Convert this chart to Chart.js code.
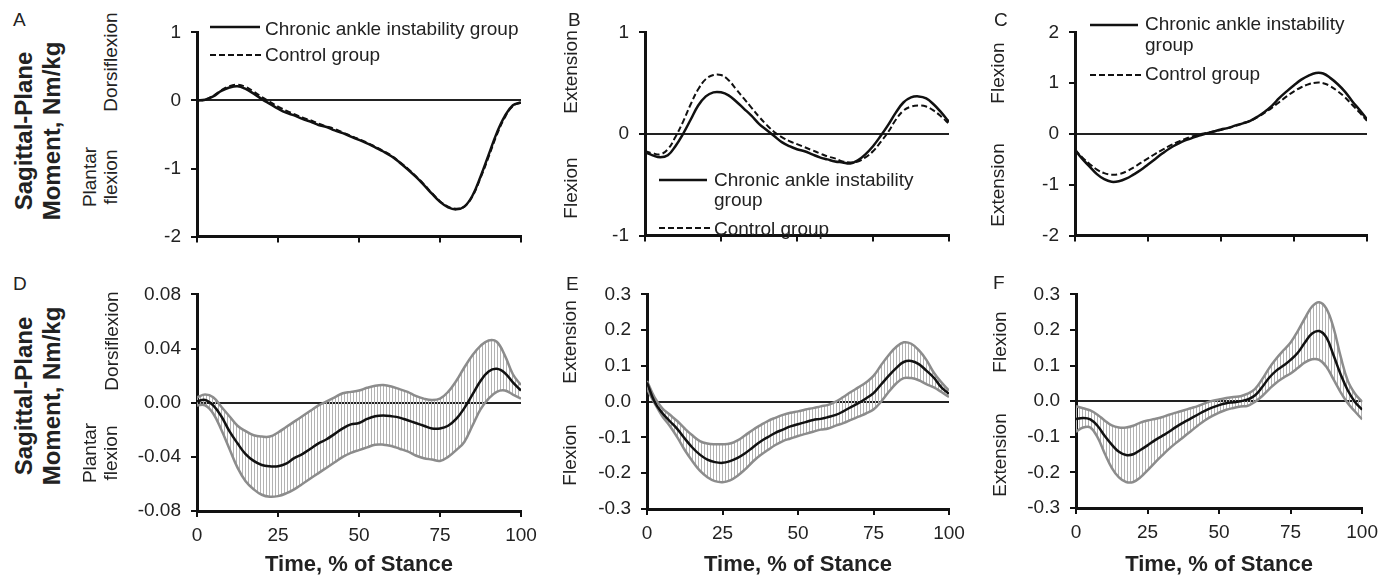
<!DOCTYPE html>
<html lang="en">
<head>
<meta charset="UTF-8">
<title>Sagittal-Plane Moment</title>
<script src="https://cdn.jsdelivr.net/npm/chart.js"></script>
<style>
  body { margin: 0; background: #fff; }
  #fig { position: relative; width: 1385px; height: 576px; overflow: hidden;
         font-family: "Liberation Sans", Arial, sans-serif; color: #222; }
  #fig canvas { position: absolute; }
  .t { position: absolute; font-size: 19px; line-height: 22px; white-space: nowrap; }
  .r { transform: translate(-50%, -50%) rotate(-90deg); text-align: center; }
  .big { font-weight: bold; font-size: 24px; line-height: 28px; }
  svg { position: absolute; }
</style>
</head>
<body>
<div id="fig">
  <canvas id="chartA"></canvas>
  <canvas id="chartB"></canvas>
  <canvas id="chartC"></canvas>
  <canvas id="chartD"></canvas>
  <canvas id="chartE"></canvas>
  <canvas id="chartF"></canvas>

  <!-- panel letters -->
  <div class="t" style="left:13px;top:10px;line-height:19px">A</div>
  <div class="t" style="left:568px;top:10px;line-height:19px">B</div>
  <div class="t" style="left:994px;top:10px;line-height:19px">C</div>
  <div class="t" style="left:13px;top:274px;line-height:19px">D</div>
  <div class="t" style="left:566px;top:274px;line-height:19px">E</div>
  <div class="t" style="left:993px;top:273px;line-height:19px">F</div>

  <!-- row titles -->
  <div class="t r big" style="left:38px;top:131px">Sagittal-Plane<br>Moment, Nm/kg</div>
  <div class="t r big" style="left:38px;top:396px">Sagittal-Plane<br>Moment, Nm/kg</div>

  <!-- direction labels -->
  <div class="t r" style="left:111px;top:62px">Dorsiflexion</div>
  <div class="t r" style="left:100px;top:177px;line-height:21px">Plantar<br>flexion</div>
  <div class="t r" style="left:571px;top:72px">Extension</div>
  <div class="t r" style="left:571px;top:188px">Flexion</div>
  <div class="t r" style="left:998px;top:73px">Flexion</div>
  <div class="t r" style="left:998px;top:185px">Extension</div>
  <div class="t r" style="left:112px;top:341px">Dorsiflexion</div>
  <div class="t r" style="left:100px;top:453px;line-height:21px">Plantar<br>flexion</div>
  <div class="t r" style="left:570px;top:342px">Extension</div>
  <div class="t r" style="left:570px;top:455px">Flexion</div>
  <div class="t r" style="left:1000px;top:342px">Flexion</div>
  <div class="t r" style="left:1000px;top:455px">Extension</div>

  <!-- legends -->
  <svg style="left:210px;top:24px" width="50" height="6"><line x1="0" y1="3" x2="50" y2="3" stroke="#111" stroke-width="2.5"/></svg>
  <div class="t" style="left:265px;top:18px">Chronic ankle instability group</div>
  <svg style="left:210px;top:52px" width="53" height="6"><line x1="0" y1="3" x2="53" y2="3" stroke="#111" stroke-width="2" stroke-dasharray="6 3"/></svg>
  <div class="t" style="left:265px;top:44px">Control group</div>

  <svg style="left:659px;top:177px" width="48" height="6"><line x1="0" y1="3" x2="48" y2="3" stroke="#111" stroke-width="2.5"/></svg>
  <div class="t" style="left:714px;top:169px">Chronic ankle instability</div>
  <div class="t" style="left:714px;top:189px">group</div>
  <svg style="left:659px;top:225px" width="53" height="6"><line x1="0" y1="3" x2="53" y2="3" stroke="#111" stroke-width="2" stroke-dasharray="6 3"/></svg>
  <div class="t" style="left:714px;top:218px">Control group</div>

  <svg style="left:1090px;top:22px" width="48" height="6"><line x1="0" y1="3" x2="48" y2="3" stroke="#111" stroke-width="2.5"/></svg>
  <div class="t" style="left:1145px;top:13px">Chronic ankle instability</div>
  <div class="t" style="left:1145px;top:34px">group</div>
  <svg style="left:1090px;top:72px" width="52" height="6"><line x1="0" y1="3" x2="52" y2="3" stroke="#111" stroke-width="2" stroke-dasharray="6 3"/></svg>
  <div class="t" style="left:1145px;top:63px">Control group</div>
</div>

<script>
// time, % of stance (shared by every panel)
const stance = [0, 2.5, 5, 7.5, 10, 12.5, 15, 17.5, 20, 22.5, 25, 27.5, 30, 32.5, 35, 37.5, 40, 42.5, 45, 47.5,
                50, 52.5, 55, 57.5, 60, 62.5, 65, 67.5, 70, 72.5, 75, 77.5, 80, 82.5, 85, 87.5, 90, 92.5, 95, 97.5, 100];

// y tick values
const ticksA = [-2, -1, 0, 1];
const ticksB = [-1, 0, 1];
const ticksC = [-2, -1, 0, 1, 2];
const ticksD = [-0.08, -0.04, 0, 0.04, 0.08];
const ticksEF = [-0.3, -0.2, -0.1, 0, 0.1, 0.2, 0.3];

// A - ankle
const caiA = [0, 0.01, 0.06, 0.14, 0.19, 0.21, 0.17, 0.10, 0.02, -0.05, -0.12, -0.18, -0.22, -0.27, -0.31, -0.36, -0.39, -0.44, -0.48, -0.53,
              -0.58, -0.63, -0.69, -0.75, -0.82, -0.91, -1.01, -1.12, -1.24, -1.37, -1.49, -1.57, -1.60, -1.56, -1.40, -1.12, -0.80, -0.48, -0.23, -0.07, -0.03];
const ctlA = [0, 0.01, 0.07, 0.15, 0.21, 0.23, 0.20, 0.13, 0.05, -0.02, -0.09, -0.15, -0.20, -0.25, -0.29, -0.34, -0.38, -0.42, -0.47, -0.52,
              -0.57, -0.62, -0.68, -0.74, -0.81, -0.90, -1.00, -1.11, -1.23, -1.36, -1.48, -1.56, -1.59, -1.56, -1.41, -1.14, -0.83, -0.51, -0.25, -0.08, -0.03];

// B - knee
const caiB = [-0.18, -0.21, -0.23, -0.21, -0.12, 0.0, 0.14, 0.28, 0.37, 0.41, 0.41, 0.38, 0.32, 0.25, 0.18, 0.10, 0.04, -0.02, -0.08, -0.12,
              -0.15, -0.17, -0.20, -0.23, -0.25, -0.27, -0.28, -0.29, -0.26, -0.20, -0.12, -0.02, 0.09, 0.21, 0.31, 0.36, 0.37, 0.35, 0.29, 0.21, 0.12];
const ctlB = [-0.17, -0.19, -0.20, -0.15, -0.03, 0.12, 0.29, 0.44, 0.54, 0.58, 0.58, 0.53, 0.44, 0.35, 0.26, 0.17, 0.09, 0.02, -0.03, -0.07,
              -0.10, -0.13, -0.16, -0.19, -0.22, -0.24, -0.27, -0.28, -0.27, -0.23, -0.17, -0.08, 0.02, 0.14, 0.23, 0.27, 0.28, 0.27, 0.23, 0.17, 0.10];

// C - hip
const caiC = [-0.31, -0.49, -0.64, -0.79, -0.89, -0.94, -0.93, -0.88, -0.80, -0.71, -0.60, -0.49, -0.38, -0.28, -0.20, -0.13, -0.08, -0.03, 0.01, 0.05,
              0.09, 0.12, 0.17, 0.21, 0.26, 0.34, 0.44, 0.56, 0.71, 0.84, 0.96, 1.07, 1.15, 1.20, 1.19, 1.10, 0.98, 0.83, 0.64, 0.47, 0.29];
const ctlC = [-0.31, -0.46, -0.59, -0.70, -0.77, -0.80, -0.79, -0.74, -0.66, -0.57, -0.48, -0.39, -0.31, -0.23, -0.16, -0.10, -0.05, -0.01, 0.02, 0.05,
              0.08, 0.12, 0.16, 0.21, 0.26, 0.33, 0.42, 0.52, 0.63, 0.74, 0.84, 0.92, 0.98, 1.01, 1.00, 0.94, 0.84, 0.72, 0.57, 0.42, 0.26];

// D - ankle difference (mean and confidence band)
const meanD = [0.001, 0.002, -0.002, -0.010, -0.021, -0.030, -0.038, -0.043, -0.046, -0.047, -0.047, -0.045, -0.041, -0.038, -0.034, -0.030, -0.027, -0.023, -0.019, -0.016,
               -0.015, -0.012, -0.010, -0.0095, -0.010, -0.011, -0.013, -0.015, -0.017, -0.019, -0.019, -0.017, -0.012, -0.004, 0.006, 0.016, 0.023, 0.025, 0.022, 0.015, 0.009];
const upperD = [0.004, 0.006, 0.004, -0.003, -0.010, -0.017, -0.021, -0.024, -0.025, -0.025, -0.022, -0.018, -0.014, -0.010, -0.006, -0.002, 0.001, 0.004, 0.007, 0.008,
                0.009, 0.011, 0.0125, 0.013, 0.012, 0.010, 0.008, 0.005, 0.003, 0.002, 0.003, 0.008, 0.016, 0.026, 0.035, 0.042, 0.046, 0.045, 0.035, 0.021, 0.013];
const lowerD = [-0.002, -0.002, -0.008, -0.020, -0.034, -0.048, -0.058, -0.064, -0.068, -0.0695, -0.069, -0.067, -0.064, -0.060, -0.056, -0.052, -0.048, -0.044, -0.040, -0.037,
                -0.035, -0.033, -0.031, -0.031, -0.032, -0.034, -0.036, -0.039, -0.041, -0.042, -0.043, -0.040, -0.035, -0.029, -0.017, -0.005, 0.003, 0.008, 0.009, 0.006, 0.003];

// E - knee difference
const meanE = [0.054, 0.0, -0.031, -0.054, -0.076, -0.103, -0.128, -0.148, -0.162, -0.169, -0.171, -0.166, -0.157, -0.144, -0.128, -0.112, -0.099, -0.087, -0.078, -0.069,
               -0.063, -0.057, -0.051, -0.048, -0.043, -0.037, -0.027, -0.015, -0.004, 0.009, 0.024, 0.048, 0.072, 0.094, 0.111, 0.114, 0.105, 0.087, 0.067, 0.040, 0.022];
const upperE = [0.058, 0.012, -0.018, -0.036, -0.054, -0.075, -0.094, -0.110, -0.117, -0.119, -0.119, -0.117, -0.108, -0.094, -0.079, -0.066, -0.054, -0.045, -0.037, -0.031,
                -0.027, -0.022, -0.018, -0.013, -0.009, 0.0, 0.013, 0.027, 0.040, 0.054, 0.072, 0.102, 0.130, 0.153, 0.166, 0.162, 0.144, 0.117, 0.081, 0.054, 0.031];
const lowerE = [0.036, -0.004, -0.040, -0.067, -0.099, -0.135, -0.166, -0.193, -0.211, -0.222, -0.225, -0.220, -0.207, -0.189, -0.168, -0.150, -0.135, -0.121, -0.110, -0.103,
                -0.096, -0.090, -0.084, -0.078, -0.075, -0.067, -0.060, -0.051, -0.042, -0.033, -0.022, 0.0, 0.027, 0.051, 0.066, 0.066, 0.060, 0.049, 0.040, 0.027, 0.013];

// F - hip difference
const meanF = [-0.050, -0.047, -0.051, -0.069, -0.097, -0.122, -0.142, -0.151, -0.149, -0.137, -0.124, -0.110, -0.098, -0.086, -0.072, -0.060, -0.049, -0.038, -0.027, -0.018,
               -0.011, -0.006, -0.003, 0.0, 0.005, 0.016, 0.039, 0.066, 0.086, 0.100, 0.116, 0.136, 0.165, 0.190, 0.197, 0.179, 0.129, 0.075, 0.030, -0.002, -0.024];
const upperF = [-0.014, -0.020, -0.026, -0.038, -0.054, -0.068, -0.074, -0.074, -0.069, -0.060, -0.054, -0.050, -0.045, -0.038, -0.032, -0.026, -0.020, -0.014, -0.006, 0.001,
                0.005, 0.009, 0.012, 0.014, 0.021, 0.034, 0.061, 0.093, 0.120, 0.143, 0.165, 0.197, 0.233, 0.266, 0.278, 0.260, 0.206, 0.125, 0.057, 0.021, -0.002];
const lowerF = [-0.086, -0.074, -0.074, -0.101, -0.146, -0.187, -0.214, -0.227, -0.227, -0.214, -0.194, -0.173, -0.153, -0.134, -0.117, -0.101, -0.085, -0.069, -0.054, -0.042,
                -0.032, -0.024, -0.019, -0.015, -0.013, -0.002, 0.014, 0.034, 0.052, 0.066, 0.078, 0.093, 0.109, 0.118, 0.116, 0.097, 0.061, 0.025, -0.006, -0.029, -0.051];

Chart.defaults.font.family = '"Liberation Sans", Arial, sans-serif';
Chart.defaults.font.size = 19;
Chart.defaults.color = '#222';

function points(ys) {
  return ys.map((y, i) => ({ x: stance[i], y: y }));
}

function isZero(v) { return Math.abs(v) < 1e-9; }

// vertical hatching used between the band lines
function hatchFill() {
  const c = document.createElement('canvas');
  c.width = 3; c.height = 4;
  const g = c.getContext('2d');
  g.fillStyle = '#b3b3b3';
  g.fillRect(0, 0, 1, 4);
  return g.createPattern(c, 'repeat');
}

function groupLines(cai, ctl) {
  return [
    { data: points(cai), borderColor: '#111', borderWidth: 2.5 },
    { data: points(ctl), borderColor: '#111', borderWidth: 2, borderDash: [6, 3] }
  ];
}

// mean first so it is painted last (on top)
function bandLines(mean, upper, lower) {
  return [
    { data: points(mean), borderColor: '#111', borderWidth: 2.5, fill: false },
    { data: points(upper), borderColor: '#8c8c8c', borderWidth: 2.5, fill: '+1', backgroundColor: hatchFill() },
    { data: points(lower), borderColor: '#8c8c8c', borderWidth: 2.5, fill: false }
  ];
}

// box = plot area on the page (left, top, right, bottom)
function drawPanel(id, box, yTicks, decimals, datasets, showX) {
  const yw = 75, padTop = 14;
  const padRight = box.R + 25 > 1385 ? 1385 - box.R : 25;
  const xh = showX ? 576 - box.B : 14;
  const cv = document.getElementById(id);
  cv.width = yw + (box.R - box.L) + padRight;
  cv.height = padTop + (box.B - box.T) + xh;
  cv.style.left = (box.L - yw) + 'px';
  cv.style.top = (box.T - padTop) + 'px';

  new Chart(cv, {
    type: 'line',
    data: { datasets: datasets },
    options: {
      responsive: false,
      animation: false,
      layout: { padding: { top: padTop, right: padRight, left: 0, bottom: 0 } },
      plugins: {
        legend: { display: false },
        tooltip: { enabled: false },
        filler: { drawTime: 'beforeDatasetsDraw' }
      },
      elements: { point: { radius: 0 }, line: { tension: 0.4, fill: false } },
      scales: {
        x: {
          type: 'linear', min: 0, max: 100,
          ticks: { stepSize: 25, display: showX, padding: 7 },
          grid: { drawOnChartArea: false, drawTicks: true, tickLength: 6, color: '#111', lineWidth: 2 },
          border: { color: '#111', width: 3 },
          title: { display: showX, text: 'Time, % of Stance', padding: 0,
                   font: { size: 22, weight: 'bold', lineHeight: 1 } },
          afterFit: s => { s.height = xh; }
        },
        y: {
          min: yTicks[0], max: yTicks[yTicks.length - 1],
          ticks: {
            stepSize: yTicks[1] - yTicks[0], padding: 10,
            callback: v => (isZero(v) ? 0 : v).toFixed(decimals)
          },
          grid: {
            drawTicks: true, tickLength: 6, tickColor: '#111', lineWidth: 2,
            color: c => (c.tick && isZero(c.tick.value)) ? '#222' : 'rgba(0,0,0,0)'
          },
          border: { color: '#111', width: 3 },
          afterFit: s => { s.width = yw; }
        }
      }
    }
  });
}

drawPanel('chartA', { L: 197, T: 25, R: 521, B: 244 }, ticksA, 0, groupLines(caiA, ctlA), false);
drawPanel('chartB', { L: 645, T: 25, R: 949, B: 243 }, ticksB, 0, groupLines(caiB, ctlB), false);
drawPanel('chartC', { L: 1075, T: 25, R: 1367, B: 243 }, ticksC, 0, groupLines(caiC, ctlC), false);
drawPanel('chartD', { L: 197, T: 287, R: 521, B: 511 }, ticksD, 2, bandLines(meanD, upperD, lowerD), true);
drawPanel('chartE', { L: 647, T: 287, R: 949, B: 509 }, ticksEF, 1, bandLines(meanE, upperE, lowerE), true);
drawPanel('chartF', { L: 1076, T: 287, R: 1367, B: 508 }, ticksEF, 1, bandLines(meanF, upperF, lowerF), true);
</script>
</body>
</html>
